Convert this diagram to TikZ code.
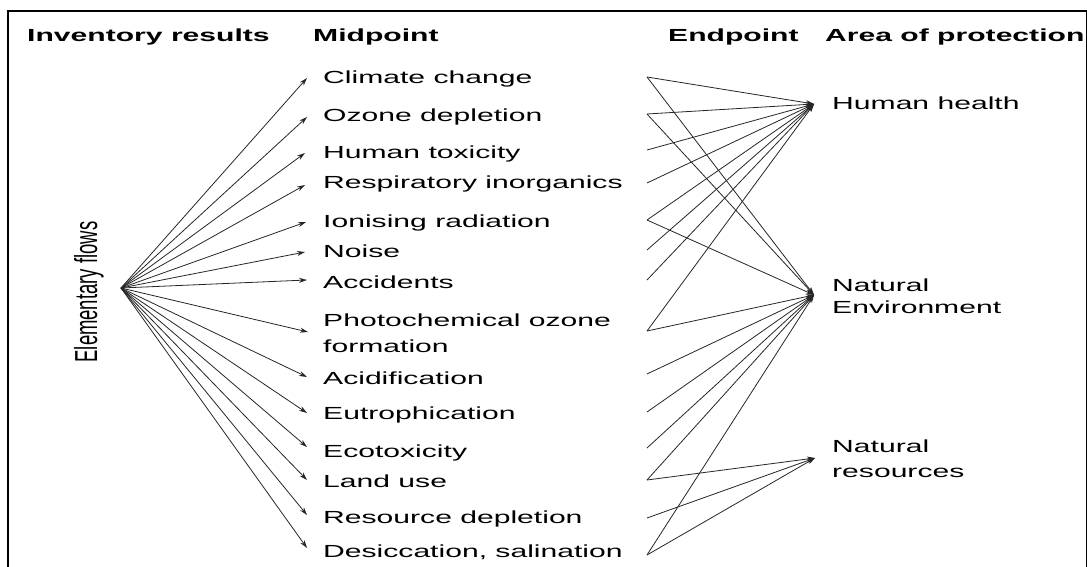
\documentclass[tikz,border=0pt]{standalone}
\usepackage{fontspec}
\setmainfont{Liberation Sans}
\usetikzlibrary{arrows.meta}
% horizontally widened lettering used throughout
\newcommand{\widetext}[1]{\scalebox{1.72}[1]{#1}}
\newcommand{\twolines}[2]{\widetext{\begin{tabular}[t]{@{}l@{}}#1\\#2\end{tabular}}}
\begin{document}
\begin{tikzpicture}[x=1pt,y=-1pt,
  lbl/.style={anchor=base west, inner sep=0pt, font=\fontsize{17.5}{23}\selectfont},
  hdr/.style={anchor=base west, inner sep=0pt, font=\fontsize{17.5}{23}\selectfont\bfseries},
  flow/.style={draw=black!85, line width=0.8pt, -{Stealth[length=8pt,width=5pt]}},
  link/.style={draw=black!85, line width=0.8pt, -{Stealth[length=8pt,width=5pt]}},
]
\useasboundingbox (0,0) rectangle (1087,567);

% frame (open at the bottom)
\draw[line width=2.2pt] (7,11) -- (1087,11);
\draw[line width=1.8pt] (8,11) -- (8,567);
\draw[line width=1pt] (1086,11) -- (1086,567);

% column headings
\node[hdr] (h1) at (27,42) {\widetext{Inventory results}};
\node[hdr] (h2) at (313,42) {\widetext{Midpoint}};
\node[hdr] (h3) at (668,42) {\widetext{Endpoint}};
\node[hdr] (h4) at (825,42) {\widetext{Area of protection}};

% inventory side
\node[inner sep=0pt, font=\fontsize{18.5}{22}\selectfont] (eflab) at (89,292)
  {\widetext{\rotatebox{90}{Elementary flows}}};
\coordinate (ef) at (121,288);

% midpoint categories: label, incoming tip, outgoing start
\node[lbl] (cc) at (323,84)  {\widetext{Climate change}};
\node[lbl] (od) at (323,122) {\widetext{Ozone depletion}};
\node[lbl] (ht) at (323,159) {\widetext{Human toxicity}};
\node[lbl] (ri) at (323,189) {\widetext{Respiratory inorganics}};
\node[lbl] (ir) at (323,227) {\widetext{Ionising radiation}};
\node[lbl] (no) at (323,257) {\widetext{Noise}};
\node[lbl] (ac) at (323,288) {\widetext{Accidents}};
\node[lbl, font=\fontsize{17.5}{26}\selectfont] (po) at (323,326) {\twolines{Photochemical ozone}{formation}};
\node[lbl] (ad) at (323,384) {\widetext{Acidification}};
\node[lbl] (eu) at (323,419) {\widetext{Eutrophication}};
\node[lbl] (ec) at (323,457) {\widetext{Ecotoxicity}};
\node[lbl] (lu) at (323,487) {\widetext{Land use}};
\node[lbl] (rd) at (323,523) {\widetext{Resource depletion}};
\node[lbl] (ds) at (323,557) {\widetext{Desiccation, salination}};

\coordinate (cc-in) at (307,78);  \coordinate (cc-out) at (647,77);
\coordinate (od-in) at (307,117); \coordinate (od-out) at (647,114);
\coordinate (ht-in) at (305,153); \coordinate (ht-out) at (647,150);
\coordinate (ri-in) at (305,185); \coordinate (ri-out) at (647,183);
\coordinate (ir-in) at (306,222); \coordinate (ir-out) at (647,220);
\coordinate (no-in) at (305,252); \coordinate (no-out) at (647,250);
\coordinate (ac-in) at (307,280); \coordinate (ac-out) at (647,280);
\coordinate (po-in) at (308,332); \coordinate (po-out) at (647,331);
\coordinate (ad-in) at (307,377); \coordinate (ad-out) at (647,374);
\coordinate (eu-in) at (307,413); \coordinate (eu-out) at (647,412);
\coordinate (ec-in) at (307,447); \coordinate (ec-out) at (647,448);
\coordinate (lu-in) at (307,480); \coordinate (lu-out) at (647,480);
\coordinate (rd-in) at (307,515); \coordinate (rd-out) at (647,518);
\coordinate (ds-in) at (307,548); \coordinate (ds-out) at (647,555);

% areas of protection
\node[lbl] (hh) at (832,110) {\widetext{Human health}};
\node[lbl, font=\fontsize{17.5}{22.5}\selectfont] (ne) at (832,291) {\twolines{Natural}{Environment}};
\node[lbl, font=\fontsize{17.5}{25}\selectfont] (nr) at (832,452) {\twolines{Natural}{resources}};
\coordinate (hh-in) at (814,104);
\coordinate (ne-in) at (814,295);
\coordinate (nr-in) at (815,458);

% elementary flows fan out to every midpoint category
\foreach \m in {cc,od,ht,ri,ir,no,ac,po,ad,eu,ec,lu,rd,ds}
  \draw[flow] (ef) -- (\m-in);

% midpoint to area of protection
\foreach \m in {cc,od,ht,ri,ir,no,ac,po}
  \draw[link] (\m-out) -- (hh-in);
\foreach \m in {cc,od,ir,po,ad,eu,ec,lu,ds}
  \draw[link] (\m-out) -- (ne-in);
\foreach \m in {lu,rd,ds}
  \draw[link] (\m-out) -- (nr-in);
\end{tikzpicture}
\end{document}
